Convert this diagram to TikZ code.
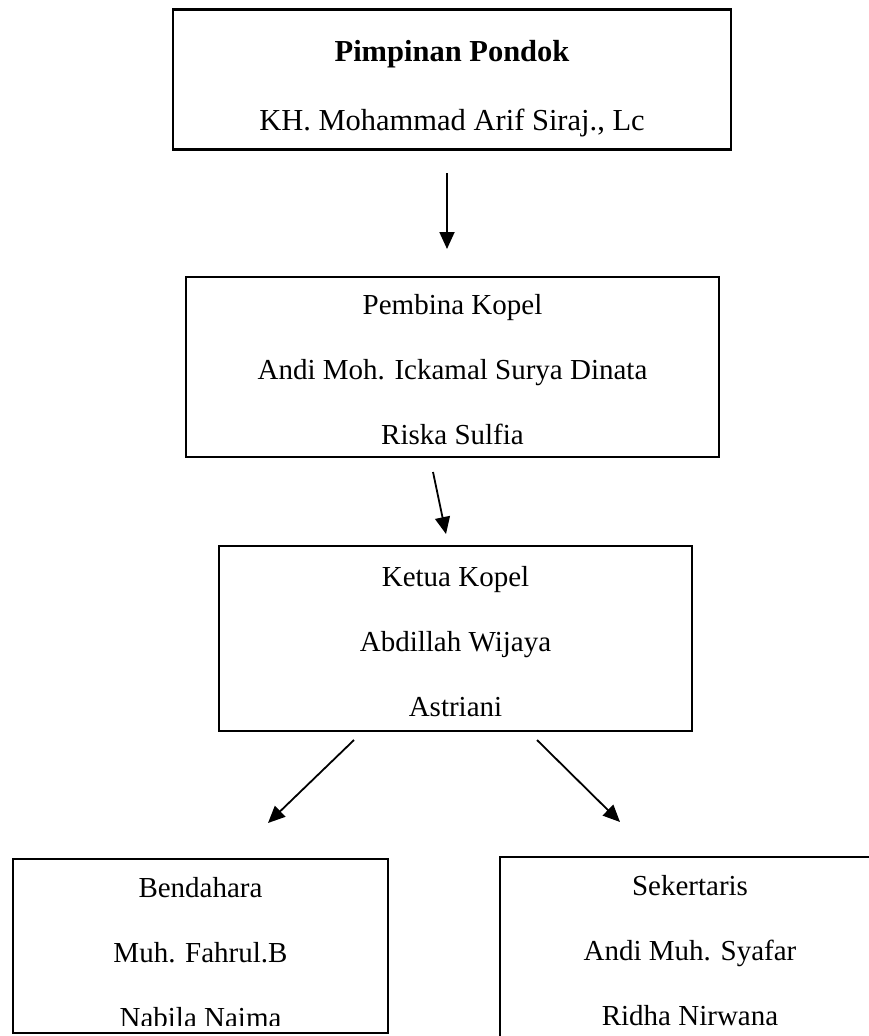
\documentclass[tikz,border=0pt]{standalone}
\usepackage{fontspec}
\setmainfont{Liberation Serif}
\usetikzlibrary{arrows.meta}
\begin{document}
\begin{tikzpicture}[x=1pt,y=-1pt,
  box/.style={draw,line width=2.4pt,inner sep=0pt,outer sep=0pt},
  txt/.style={anchor=base,inner sep=0pt,font=\fontsize{29}{29}\selectfont},
  ttl/.style={anchor=base,inner sep=0pt,font=\fontsize{30.5}{30.5}\selectfont},
  conn/.style={line width=1.8pt,-{Triangle[length=17pt,width=15pt]}}]
\useasboundingbox (0,0) rectangle (869,1036);
\clip (0,0) rectangle (869,1036);
% boxes
\node[box,minimum width=558pt,minimum height=140pt] (top) at (452,79.5) {};
\node[box,minimum width=533pt,minimum height=180pt] (pemb) at (452.5,367) {};
\node[box,minimum width=473pt,minimum height=185pt] (ketua) at (455.5,638.5) {};
\node[box,minimum width=375pt,minimum height=174pt] (bend) at (200.5,946) {};
\node[box,minimum width=380pt,minimum height=188pt] (sek) at (690,951) {};
% texts
\node[ttl,font=\fontsize{30.5}{30.5}\selectfont\bfseries] (t1) at (452,61) {Pimpinan Pondok};
\node[ttl] (t2) at (452,130) {KH. Mohammad Arif Siraj., Lc};
\node[txt] (p1) at (452.5,314) {Pembina Kopel};
\node[txt] (p2) at (452.5,379) {Andi Moh. Ickamal Surya Dinata};
\node[txt] (p3) at (452.5,444) {Riska Sulfia};
\node[txt] (k1) at (455.5,586) {Ketua Kopel};
\node[txt] (k2) at (455.5,651) {Abdillah Wijaya};
\node[txt] (k3) at (455.5,716) {Astriani};
\node[txt] (b1) at (200.5,897) {Bendahara};
\node[txt] (b2) at (200.5,962) {Muh. Fahrul.B};
\begin{scope}
\clip (14,1000) rectangle (387,1025);
\node[txt] (b3) at (200.5,1027) {Nabila Naima};
\end{scope}
\node[txt] (s1) at (690,895) {Sekertaris};
\node[txt] (s2) at (690,960) {Andi Muh. Syafar};
\node[txt] (s3) at (690,1025) {Ridha Nirwana};
% connector end points
\coordinate (a1s) at (447,173);
\coordinate (a1e) at (447,249);
\coordinate (a2s) at (433,472);
\coordinate (a2e) at (446,534);
\coordinate (a3s) at (354,740);
\coordinate (a3e) at (268,823);
\coordinate (a4s) at (537,740);
\coordinate (a4e) at (620,822);
\draw[conn] (a1s) -- (a1e);
\draw[conn] (a2s) -- (a2e);
\draw[conn] (a3s) -- (a3e);
\draw[conn] (a4s) -- (a4e);
\end{tikzpicture}
\end{document}
